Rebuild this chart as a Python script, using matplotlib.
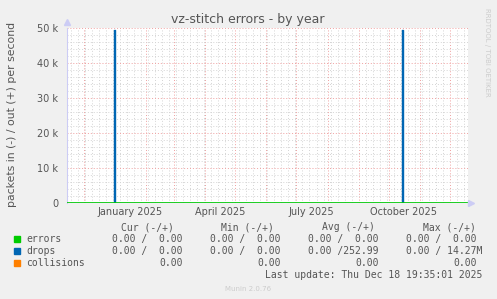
import matplotlib
matplotlib.use("Agg")
import matplotlib.pyplot as plt
import matplotlib.dates as mdates
import pandas as pd

# data (daily averages, packets/s)
t_start = pd.Timestamp("2024-11-13 19:35")
t_end = pd.Timestamp("2025-12-18 19:35")
drop_dates = ["2024-11-13", "2024-12-31", "2025-01-01", "2025-10-14", "2025-10-15", "2025-12-18"]
drop_values = [0, 49500, 0, 49300, 0, 0]
error_dates = ["2024-11-13", "2025-12-18"]
error_values = [0, 0]

month_labels = ["January 2025", "April 2025", "July 2025", "October 2025"]
label_dates = ["2025-01-16", "2025-04-16", "2025-07-16", "2025-10-16"]
y_ticks = [0, 10000, 20000, 30000, 40000, 50000]
y_ticklabels = ["0", "10 k", "20 k", "30 k", "40 k", "50 k"]

legend_names = ["errors", "drops", "collisions"]
legend_colors = ["#00CC00", "#0066B3", "#FF8000"]
cur_col = ["0.00 /  0.00", "0.00 /  0.00", "0.00"]
min_col = ["0.00 /  0.00", "0.00 /  0.00", "0.00"]
avg_col = ["0.00 /  0.00", "0.00 /252.99", "0.00"]
max_col = ["0.00 /  0.00", "0.00 / 14.27M", "0.00"]

txt = "#555555"
mono = "DejaVu Sans Mono"

fig = plt.figure(figsize=(4.97, 2.99), dpi=100, facecolor="#F0F0F0")
W, H = 497, 299
ax = fig.add_axes([66.7 / W, (H - 203) / H, 401 / W, 175 / H])
ax.set_facecolor("white")

ax.plot(pd.to_datetime(drop_dates), drop_values, drawstyle="steps-post",
        color=legend_colors[1], lw=1.0, zorder=3)
ax.plot(pd.to_datetime(error_dates), error_values, color=legend_colors[0], lw=1.2, zorder=4)

ax.set_xlim(t_start, t_end)
ax.set_ylim(0, 50000)

# grid
ax.xaxis.set_major_locator(mdates.MonthLocator())
ax.xaxis.set_minor_locator(mdates.WeekdayLocator(byweekday=mdates.MO))
ax.xaxis.set_major_formatter(plt.NullFormatter())
ax.set_yticks(y_ticks, y_ticklabels)
ax.set_yticks(range(0, 50001, 2000), minor=True)
ax.grid(which="major", color="#F0A0A0", linestyle=(0, (1, 2)), lw=0.7)
ax.grid(which="minor", color="#D4D4D4", linestyle=(0, (1, 2)), lw=0.7)
ax.set_axisbelow(True)
ax.tick_params(axis="both", which="both", length=0, colors=txt, labelsize=7)
ax.tick_params(axis="y", pad=6)

sec = ax.secondary_xaxis("bottom")
sec.set_xticks(pd.to_datetime(label_dates), month_labels)
sec.tick_params(length=0, pad=3, labelsize=7, colors=txt)
sec.spines["bottom"].set_visible(False)

for s in ["top", "right", "bottom"]:
    ax.spines[s].set_visible(False)
ax.spines["left"].set_color("#CCCCF5")
ax.plot([0], [1.035], marker="^", color="#CCCCF5", ms=4, transform=ax.transAxes, clip_on=False)
ax.plot([1.008], [0], marker=">", color="#CCCCF5", ms=4, transform=ax.transAxes, clip_on=False)

fig.text(248 / W, 1 - 19 / H, "vz-stitch errors - by year", ha="center", va="center",
         fontsize=9, color=txt)
fig.text(12 / W, 1 - 114 / H, "packets in (-) / out (+) per second", rotation=90,
         ha="center", va="center", fontsize=7.8, color=txt)
fig.text(487 / W, 1 - 52 / H, "RRDTOOL / TOBI OETIKER", rotation=270, ha="center",
         va="center", fontsize=5, color="#CCCCCC")
fig.text(248 / W, 1 - 289 / H, "Munin 2.0.76", ha="center", va="center", fontsize=5,
         color="#CCCCCC")

# legend table
fig.text(174 / W, 1 - 227 / H, "Cur (-/+)", ha="right", va="center", family=mono, fontsize=7, color=txt)
fig.text(274 / W, 1 - 227 / H, "Min (-/+)", ha="right", va="center", family=mono, fontsize=7, color=txt)
fig.text(375 / W, 1 - 227 / H, "Avg (-/+)", ha="right", va="center", family=mono, fontsize=7, color=txt)
fig.text(476 / W, 1 - 227 / H, "Max (-/+)", ha="right", va="center", family=mono, fontsize=7, color=txt)
for i, name in enumerate(legend_names):
    y = 1 - (239 + 12 * i) / H
    fig.patches.append(plt.Rectangle((14 / W, y - 3 / H), 6 / W, 6 / H,
                                     transform=fig.transFigure, color=legend_colors[i]))
    fig.text(26 / W, y, name, ha="left", va="center", family=mono, fontsize=7, color=txt)
    fig.text(183 / W, y, cur_col[i], ha="right", va="center", family=mono, fontsize=7, color=txt)
    fig.text(281 / W, y, min_col[i], ha="right", va="center", family=mono, fontsize=7, color=txt)
    fig.text(379 / W, y, avg_col[i], ha="right", va="center", family=mono, fontsize=7, color=txt)
    xr = 482 if max_col[i].endswith("M") else 477
    fig.text(xr / W, y, max_col[i], ha="right", va="center", family=mono, fontsize=7, color=txt)
fig.text(482 / W, 1 - 275 / H, "Last update: Thu Dec 18 19:35:01 2025", ha="right",
         va="center", family=mono, fontsize=7, color=txt)

fig.savefig("out.png", dpi=100, facecolor=fig.get_facecolor())
